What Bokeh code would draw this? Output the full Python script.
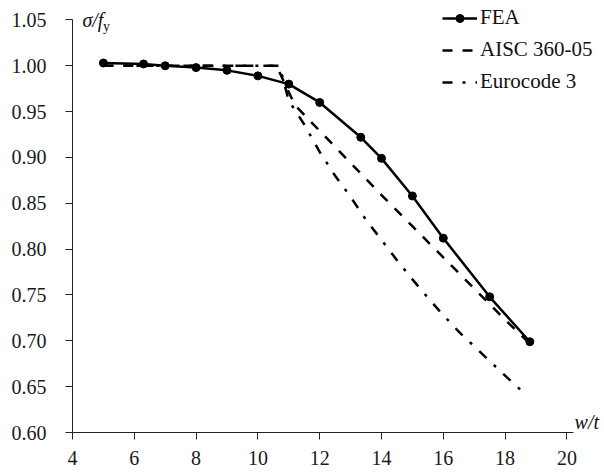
from bokeh.plotting import figure
from bokeh.models import Label, Legend, LegendItem, FixedTicker, Range1d, NumeralTickFormatter
from bokeh.embed import file_html
from bokeh.resources import INLINE

# ---- data ----
fea_x = [5, 6.3, 7, 8, 9, 10, 11, 12, 13.33, 14, 15, 16, 17.5, 18.8]
fea_y = [1.003, 1.002, 1.0, 0.998, 0.995, 0.989, 0.980, 0.960, 0.922, 0.899, 0.858, 0.812, 0.748, 0.699]

aisc_x = [5, 10.6, 11.2, 12, 13, 14, 15, 16, 17, 18, 18.8]
aisc_y = [1.0, 1.0, 0.957, 0.929, 0.894, 0.859, 0.825, 0.791, 0.757, 0.723, 0.697]

ec3_x = [5, 10.7, 11.0, 11.5, 12, 12.5, 13, 13.5, 14, 14.5, 15, 15.5, 16, 16.5, 17, 17.5, 18, 18.55]
ec3_y = [1.0, 1.0, 0.962, 0.936, 0.906, 0.880, 0.857, 0.832, 0.810, 0.788, 0.767, 0.747, 0.728, 0.710, 0.694, 0.678, 0.662, 0.645]

x_ticks = [4, 6, 8, 10, 12, 14, 16, 18, 20]
y_ticks = [0.60, 0.65, 0.70, 0.75, 0.80, 0.85, 0.90, 0.95, 1.00, 1.05]

series_names = ["FEA", "AISC 360-05", "Eurocode 3"]

FONT = "Liberation Serif"

p = figure(width=604, height=473,
           x_range=Range1d(4, 21.217), y_range=Range1d(0.60, 1.0712),
           output_backend="svg", toolbar_location=None,
           min_border_left=72, min_border_right=0,
           min_border_top=0, min_border_bottom=41)

p.grid.visible = False
p.outline_line_color = None
p.background_fill_color = "white"

for ax in (p.xaxis, p.yaxis):
    ax.axis_line_color = "#222222"
    ax.axis_line_width = 1
    ax.major_tick_line_color = "#222222"
    ax.major_tick_in = 0
    ax.major_tick_out = 7
    ax.minor_tick_line_color = None
    ax.major_label_text_font = FONT
    ax.major_label_text_font_size = "20px"
    ax.major_label_text_color = "#1a1a1a"

p.xaxis.bounds = (4, 20.2)
p.yaxis.bounds = (0.60, 1.05)
p.xaxis.ticker = FixedTicker(ticks=x_ticks)
p.yaxis.ticker = FixedTicker(ticks=y_ticks)
p.yaxis.formatter = NumeralTickFormatter(format="0.00")
p.xaxis.major_label_standoff = 11
p.yaxis.major_label_standoff = 19

r_fea = p.line(fea_x, fea_y, line_width=2.5, line_color="black")
r_fea_pts = p.scatter(fea_x, fea_y, size=8, fill_color="black", line_color="black")
r_aisc = p.line(aisc_x, aisc_y, line_width=2.5, line_color="black", line_dash="10 10")
r_ec3 = p.line(ec3_x, ec3_y, line_width=2.5, line_color="black", line_dash="10 10 3 10")

legend = Legend(items=[
    LegendItem(label=series_names[0], renderers=[r_fea, r_fea_pts]),
    LegendItem(label=series_names[1], renderers=[r_aisc]),
    LegendItem(label=series_names[2], renderers=[r_ec3]),
], location=(370, 338), border_line_color=None, background_fill_alpha=0,
   padding=0, margin=0, spacing=7, glyph_width=35, glyph_height=20,
   label_height=24, label_standoff=3,
   label_text_font=FONT, label_text_font_size="21px", label_text_color="#111111")
p.add_layout(legend)

p.add_layout(Label(x=4.32, y=1.05, text="σ/f", text_font=FONT, text_font_style="italic",
                   text_font_size="20px", text_baseline="middle", text_color="#111111"))
p.add_layout(Label(x=4.99, y=1.043, text="y", text_font=FONT,
                   text_font_size="14px", text_baseline="middle", text_color="#111111"))
p.add_layout(Label(x=20.25, y=0.60, text="w/t", text_font=FONT, text_font_style="italic",
                   text_font_size="20px", text_baseline="bottom", text_color="#111111"))

open("out.html", "w").write(file_html(p, INLINE))
